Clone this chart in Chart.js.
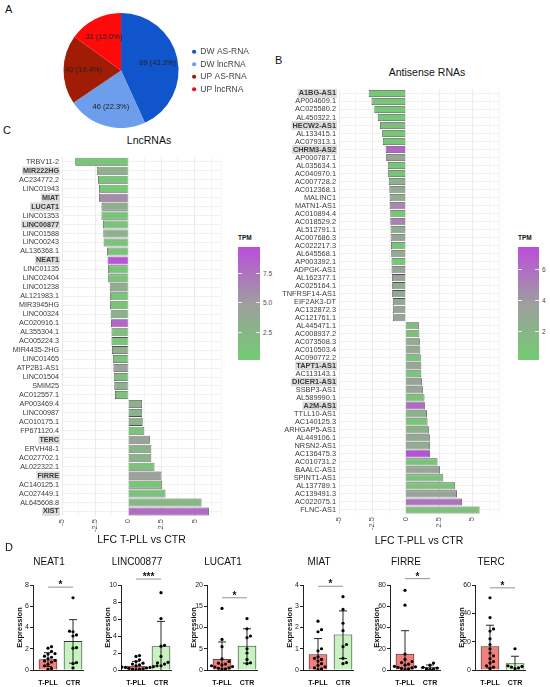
<!DOCTYPE html>
<html>
<head>
<meta charset="utf-8">
<title>lncRNA / antisense RNA figure</title>
<script src="https://cdn.jsdelivr.net/npm/chart.js@4.4.1/dist/chart.umd.min.js"></script>
<style>
  body { margin: 0; background: #fff; font-family: "Liberation Sans", Arial, sans-serif; }
  #page { position: relative; width: 550px; height: 687px; overflow: hidden; }
  canvas { position: absolute; }
  .tag { position: absolute; font-size: 11px; color: #111; }
  .mid { position: absolute; transform: translate(-50%, -50%); white-space: nowrap; color: #111; }
  .tpmbar { position: absolute; }
  .tpmtick { position: absolute; font-size: 6.5px; color: #4d4d4d; transform: translateY(-50%); }
  .tpmmark { position: absolute; height: 1px; background: rgba(255,255,255,0.8); }
</style>
</head>
<body>
<div id="page">
  <canvas id="pie" width="205" height="115" style="left:54px;top:13px"></canvas>
  <canvas id="asChart" width="236" height="465" style="left:275px;top:82px"></canvas>
  <canvas id="lncChart" width="233" height="396" style="left:0px;top:150px"></canvas>

  <div class="tag" style="left:5px;top:3px">A</div>
  <div class="tag" style="left:275px;top:54px">B</div>
  <div class="tag" style="left:3px;top:124px">C</div>
  <div class="tag" style="left:5px;top:541px">D</div>
  <div class="mid" style="left:427px;top:72px;font-size:10.5px">Antisense RNAs</div>
  <div class="mid" style="left:149px;top:140px;font-size:10.5px">LncRNAs</div>
</div>
<script>
// ---------- panel A ----------
var pieGroups = ['DW AS-RNA', 'DW lncRNA', 'UP AS-RNA', 'UP lncRNA'];
var pieCounts = [89, 46, 40, 31];
var piePercents = ['43.3', '22.3', '19.4', '15.0'];

// ---------- panel B : antisense RNAs ----------
var asLabels = ['A1BG-AS1', 'AP004609.1', 'AC025580.2', 'AL450322.1', 'HECW2-AS1', 'AL133415.1',
  'AC079313.1', 'CHRM3-AS2', 'AP000787.1', 'AL035634.1', 'AC040970.1', 'AC007728.2', 'AC012368.1',
  'MALINC1', 'MATN1-AS1', 'AC010894.4', 'AC018529.2', 'AL512791.1', 'AC007686.3', 'AC022217.3',
  'AL645568.1', 'AP003392.1', 'ADPGK-AS1', 'AL162377.1', 'AC025164.1', 'TNFRSF14-AS1', 'EIF2AK3-DT',
  'AC132872.3', 'AC121761.1', 'AL445471.1', 'AC008937.2', 'AC073508.3', 'AC010503.4', 'AC090772.2',
  'TAPT1-AS1', 'AC113143.1', 'DICER1-AS1', 'SSBP3-AS1', 'AL589990.1', 'A2M-AS1', 'TTLL10-AS1',
  'AC140125.3', 'ARHGAP5-AS1', 'AL449106.1', 'NRSN2-AS1', 'AC136475.3', 'AC010731.2', 'BAALC-AS1',
  'SPINT1-AS1', 'AL137789.1', 'AC139491.3', 'AC022075.1', 'FLNC-AS1'];
var asLfc = [-2.77, -2.56, -2.35, -2.09, -1.92, -1.76, -1.71, -1.50, -1.46, -1.34, -1.31, -1.27, -1.22,
  -1.20, -1.20, -1.15, -1.15, -1.13, -1.13, -1.10, -1.08, -1.06, -1.06, -1.03, -1.01, -1.01, -0.96,
  -0.96, -0.96, 1.01, 1.03, 1.06, 1.10, 1.13, 1.17, 1.17, 1.22, 1.29, 1.41, 1.46, 1.60,
  1.64, 1.76, 1.81, 1.83, 1.83, 2.39, 2.58, 2.82, 3.71, 3.85, 4.23, 5.54];
var asTpm = [0.5, 0.6, 0.5, 0.6, 1.2, 0.7, 0.6, 6.3, 3.3, 0.6, 0.8, 2.2, 3.0,
  2.5, 4.8, 0.7, 4.9, 2.4, 3.2, 0.8, 2.8, 0.5, 3.2, 3.4, 2.6, 2.7, 3.0,
  3.2, 3.1, 1.3, 1.1, 2.3, 3.0, 0.8, 3.0, 0.6, 3.2, 2.9, 0.9, 6.0, 2.0,
  0.6, 2.2, 3.0, 2.8, 7.3, 0.8, 3.0, 0.9, 1.0, 3.3, 5.7, 1.0];
var asBold = ['A1BG-AS1', 'HECW2-AS1', 'CHRM3-AS2', 'TAPT1-AS1', 'DICER1-AS1', 'A2M-AS1'];
var asTpmRange = [0.1, 7.4];
var asTpmTicks = [2, 4, 6];
var asTpmTickLabels = ['2', '4', '6'];

// ---------- panel C : lncRNAs ----------
var lncLabels = ['TRBV11-2', 'MIR222HG', 'AC234772.2', 'LINC01943', 'MIAT', 'LUCAT1', 'LINC01353',
  'LINC00877', 'LINC01588', 'LINC00243', 'AL136368.1', 'NEAT1', 'LINC01135', 'LINC02404', 'LINC01238',
  'AL121983.1', 'MIR3945HG', 'LINC00324', 'AC020916.1', 'AL355304.1', 'AC005224.3', 'MIR4435-2HG',
  'LINC01465', 'ATP2B1-AS1', 'LINC01504', 'SMIM25', 'AC012557.1', 'AP003469.4', 'LINC00987',
  'AC010175.1', 'FP671120.4', 'TERC', 'ERVH48-1', 'AC027702.1', 'AL022322.1', 'FIRRE', 'AC140125.1',
  'AC027449.1', 'AL645608.8', 'XIST'];
var lncLfc = [-4.00, -2.37, -2.28, -2.21, -2.21, -2.02, -2.02, -1.91, -1.88, -1.86, -1.60, -1.56, -1.53,
  -1.51, -1.40, -1.37, -1.37, -1.33, -1.30, -1.26, -1.26, -1.23, -1.16, -1.12, -1.09, -1.05, -1.00,
  1.05, 1.05, 1.09, 1.21, 1.63, 1.74, 1.74, 1.98, 2.51, 2.56, 2.81, 5.53, 6.09];
var lncTpm = [0.8, 3.0, 0.8, 0.7, 6.0, 3.3, 0.8, 1.2, 3.0, 1.3, 1.0, 9.3, 1.0,
  1.1, 3.2, 0.5, 0.9, 2.8, 8.3, 1.5, 1.0, 2.9, 1.2, 4.6, 1.6, 3.0, 1.1,
  2.9, 2.8, 2.6, 1.0, 4.6, 2.7, 2.6, 1.3, 4.6, 0.8, 1.4, 2.4, 7.8];
var lncBold = ['MIR222HG', 'MIAT', 'LUCAT1', 'LINC00877', 'NEAT1', 'TERC', 'FIRRE', 'XIST'];
var lncTpmRange = [0.1, 9.7];
var lncTpmTicks = [2.5, 5, 7.5];
var lncTpmTickLabels = ['2.5', '5.0', '7.5'];

var lfcTicks = [-5, -2.5, 0, 2.5, 5];
var lfcTickLabels = ['-5', '-2.5', '0', '2.5', '5'];

// ---------- panel D : expression ----------
var exprGenes = ['NEAT1', 'LINC00877', 'LUCAT1', 'MIAT', 'FIRRE', 'TERC'];
var exprGroups = ['T-PLL', 'CTR'];
var exprYMax = [8, 10, 20, 4, 80, 60];
var exprYStep = [2, 2, 5, 1, 20, 20];
var exprMean = [[0.98, 2.69], [0.47, 2.76], [2.5, 5.65], [0.73, 1.66], [15, 2.6], [16.6, 4.6]];
var exprSd = [[0.65, 2.05], [0.55, 2.96], [4.1, 4.05], [0.75, 1.12], [22, 2.1], [15, 5.1]];
var exprSig = ['*', '***', '*', '*', '*', '*'];
var exprSigAt = [7.8, 10.7, 17, 3.94, 86, 58];
var tpllDots = [
  [2.2, 2.05, 1.75, 1.55, 1.5, 1.3, 1.2, 1.05, 0.9, 0.85, 0.75, 0.55, 0.4, 0.15, 0.05],
  [1.7, 1.6, 1.2, 1.0, 0.8, 0.7, 0.6, 0.5, 0.5, 0.45, 0.4, 0.35, 0.3, 0.3, 0.25, 0.2, 0.15, 0.1, 0.1, 0.05],
  [14.5, 7.2, 5.5, 2.6, 2.0, 1.6, 1.4, 1.2, 1.0, 0.8, 0.7, 0.5, 0.4, 0.3, 0.2],
  [2.3, 1.9, 1.8, 1.0, 0.9, 0.62, 0.55, 0.5, 0.42, 0.3, 0.22, 0.15, 0.1, 0.05, 0.02],
  [75, 61, 15, 10, 8, 7, 5.5, 4.5, 3.5, 3, 2.5, 2, 1.5, 1, 0.5],
  [51, 37, 29, 27.5, 22, 18, 15, 12, 10, 8, 6, 5, 3, 2, 1]
];
var ctrDots = [
  [6.8, 3.65, 3.6, 3.3, 3.2, 2.1, 2.05, 0.7, 0.6, 0.2],
  [9.1, 6.05, 2.9, 2.8, 1.6, 0.9, 0.85, 0.7, 0.5],
  [12.1, 9.7, 8.0, 7.6, 5.0, 4.0, 2.5, 1.7, 1.5],
  [3.45, 2.85, 2.2, 1.85, 1.2, 1.1, 0.55, 0.35, 0.3],
  [6.5, 4.5, 2.5, 1.8, 1.2, 0.8, 0.5],
  [15, 3, 2.5, 2, 1.5, 1]
];

// ---------- styles ----------
Chart.defaults.font.family = '"Liberation Sans", Arial, sans-serif';
var pieColors = ['#1155cc', '#6d9eeb', '#a11c05', '#ff0a0a'];
var tpmLow = [114, 204, 114], tpmMid = [158, 158, 158], tpmHigh = [187, 77, 219];
var page = document.getElementById('page');

function rgb(c) { return 'rgb(' + c.join(',') + ')'; }

function tpmColor(v, range) {
  var t = Math.max(0, Math.min(1, (v - range[0]) / (range[1] - range[0])));
  var a = t < 0.5 ? tpmLow : tpmMid, b = t < 0.5 ? tpmMid : tpmHigh;
  var u = t < 0.5 ? t / 0.5 : (t - 0.5) / 0.5;
  return rgb(a.map(function (c, i) { return Math.round(c + (b[i] - c) * u); }));
}

// slice labels "n (p%)"
var pieLabels = {
  id: 'pieLabels',
  afterDatasetsDraw: function (chart) {
    var ctx = chart.ctx;
    ctx.save();
    ctx.font = '7.5px "Liberation Sans", Arial';
    ctx.fillStyle = '#222';
    ctx.textAlign = 'center';
    ctx.textBaseline = 'middle';
    chart.getDatasetMeta(0).data.forEach(function (arc, i) {
      var p = arc.getProps(['x', 'y', 'startAngle', 'endAngle', 'outerRadius']);
      var a = (p.startAngle + p.endAngle) / 2, r = p.outerRadius * 0.65;
      ctx.fillText(pieCounts[i] + ' (' + piePercents[i] + '%)', p.x + Math.cos(a) * r, p.y + Math.sin(a) * r);
    });
    ctx.restore();
  }
};

new Chart(document.getElementById('pie'), {
  type: 'pie',
  data: { labels: pieGroups, datasets: [{ data: pieCounts, backgroundColor: pieColors, borderWidth: 0 }] },
  options: {
    responsive: false, animation: false,
    layout: { padding: 0 },
    plugins: {
      tooltip: { enabled: false },
      legend: {
        position: 'right',
        labels: { usePointStyle: true, pointStyle: 'circle', boxWidth: 4, boxHeight: 3, padding: 4,
          color: '#444', font: { size: 8.5 } }
      }
    }
  },
  plugins: [pieLabels]
});

function lfcChart(id, labels, lfc, tpm, bold, tpmRange, yWidth, xHeight, fontSize) {
  new Chart(document.getElementById(id), {
    type: 'bar',
    data: { labels: labels, datasets: [{
      data: lfc,
      backgroundColor: tpm.map(function (v) { return tpmColor(v, tpmRange); }),
      borderColor: '#505050', borderWidth: 0.8,
      barPercentage: 0.9, categoryPercentage: 1
    }] },
    options: {
      indexAxis: 'y', responsive: false, animation: false,
      layout: { padding: { top: 2, right: 1, left: 0, bottom: 0 } },
      plugins: { legend: { display: false }, tooltip: { enabled: false } },
      scales: {
        x: {
          min: -5, max: 7,
          ticks: {
            stepSize: 1.25, minRotation: 90, maxRotation: 90, padding: 3, autoSkip: false,
            color: '#4d4d4d', font: { size: 7.5 },
            callback: function (v) { var i = lfcTicks.indexOf(v); return i < 0 ? '' : lfcTickLabels[i]; }
          },
          grid: {
            color: function (c) { return lfcTicks.indexOf(c.tick.value) >= 0 ? '#e3e3e3' : '#f1f1f1'; },
            drawTicks: false, lineWidth: 0.7
          },
          border: { display: false },
          title: { display: true, text: 'LFC T-PLL vs CTR', color: '#111', font: { size: 10.5 }, padding: 0 },
          afterFit: function (s) { s.height = xHeight; }
        },
        y: {
          ticks: {
            autoSkip: false, padding: 3, color: '#3a3a3a',
            font: function (c) {
              return { size: fontSize, weight: bold.indexOf(labels[c.index]) >= 0 ? 'bold' : 'normal' };
            },
            showLabelBackdrop: true,
            backdropColor: function (c) {
              return bold.indexOf(labels[c.index]) >= 0 ? '#dcdcdc' : 'rgba(255,255,255,0)';
            },
            backdropPadding: { top: 0, bottom: 0, left: 1, right: 1 }
          },
          grid: { offset: false, color: '#ebebeb', drawTicks: false, lineWidth: 0.7 },
          border: { display: false },
          afterFit: function (s) { s.width = yWidth; }
        }
      }
    }
  });
}

lfcChart('asChart', asLabels, asLfc, asTpm, asBold, asTpmRange, 64, 33, 7.4);
lfcChart('lncChart', lncLabels, lncLfc, lncTpm, lncBold, lncTpmRange, 62, 30, 7.2);

// colour bar legends
function tpmLegend(left, top, w, h, range, ticks, tickLabels) {
  var title = document.createElement('div');
  title.className = 'tag';
  title.style.cssText = 'left:' + left + 'px;top:' + (top - 13) + 'px;font-size:6.5px;font-weight:bold';
  title.textContent = 'TPM';
  page.appendChild(title);
  var bar = document.createElement('div');
  bar.className = 'tpmbar';
  bar.style.cssText = 'left:' + left + 'px;top:' + top + 'px;width:' + w + 'px;height:' + h + 'px;' +
    'background:linear-gradient(to top,' + rgb(tpmLow) + ',' + rgb(tpmMid) + ',' + rgb(tpmHigh) + ')';
  page.appendChild(bar);
  ticks.forEach(function (v, i) {
    var y = top + h * (1 - (v - range[0]) / (range[1] - range[0]));
    [0, w - 4].forEach(function (dx) {
      var m = document.createElement('div');
      m.className = 'tpmmark';
      m.style.cssText = 'left:' + (left + dx) + 'px;top:' + y + 'px;width:4px';
      page.appendChild(m);
    });
    var t = document.createElement('div');
    t.className = 'tpmtick';
    t.style.cssText = 'left:' + (left + w + 3) + 'px;top:' + y + 'px';
    t.textContent = tickLabels[i];
    page.appendChild(t);
  });
}
tpmLegend(518, 247, 21, 113, asTpmRange, asTpmTicks, asTpmTickLabels);
tpmLegend(238, 247, 22, 113, lncTpmRange, lncTpmTicks, lncTpmTickLabels);

// ---------- panel D ----------
// places dots of one group side by side when their values are close (beeswarm)
function swarm(values, group, yMax) {
  var placed = [];
  values.slice().sort(function (a, b) { return a - b; }).forEach(function (v) {
    var near = placed.filter(function (p) { return Math.abs(p.y - v) < yMax * 0.045; });
    var k = 0, off = 0;
    while (true) {
      off = k === 0 ? 0 : (k % 2 ? 1 : -1) * Math.ceil(k / 2) * 0.14;
      var clash = near.some(function (p) { return Math.abs(p.off - off) < 0.1; });
      if (!clash) break;
      k++;
    }
    placed.push({ y: v, off: off });
  });
  return placed.map(function (p) { return { x: group + p.off, y: p.y }; });
}

function exprDecor(g) {
  return {
    id: 'exprDecor',
    afterDatasetsDraw: function (chart) {
      var x = chart.scales.x, y = chart.scales.y, ctx = chart.ctx;
      ctx.save();
      ctx.strokeStyle = '#111';
      ctx.lineWidth = 0.9;
      exprMean[g].forEach(function (m, i) {
        var px = x.getPixelForValue(i), cap = 4;
        var top = y.getPixelForValue(m + exprSd[g][i]);
        ctx.beginPath();
        ctx.moveTo(px - cap, top); ctx.lineTo(px + cap, top);
        if (m - exprSd[g][i] > 0) {
          var bot = y.getPixelForValue(m - exprSd[g][i]);
          ctx.moveTo(px, top); ctx.lineTo(px, bot);
          ctx.moveTo(px - cap, bot); ctx.lineTo(px + cap, bot);
        } else {
          ctx.moveTo(px, top); ctx.lineTo(px, y.getPixelForValue(0));
        }
        ctx.stroke();
      });
      var by = y.getPixelForValue(exprSigAt[g]);
      var x0 = x.getPixelForValue(0), x1 = x.getPixelForValue(1);
      ctx.strokeStyle = '#888';
      ctx.beginPath(); ctx.moveTo(x0, by); ctx.lineTo(x1, by); ctx.stroke();
      ctx.fillStyle = '#111';
      ctx.font = 'bold 10px "Liberation Sans", Arial';
      ctx.textAlign = 'center';
      ctx.textBaseline = 'alphabetic';
      ctx.fillText(exprSig[g], (x0 + x1) / 2, by + 1);
      ctx.restore();
    }
  };
}

var dAxisX = [33, 121, 207, 303, 390, 475];
exprGenes.forEach(function (gene, g) {
  var cv = document.createElement('canvas');
  cv.width = 80; cv.height = 135;
  cv.style.left = (dAxisX[g] - 18) + 'px';
  cv.style.top = '552px';
  page.appendChild(cv);
  var dots = swarm(tpllDots[g], 0, exprYMax[g]).concat(swarm(ctrDots[g], 1, exprYMax[g]));
  new Chart(cv, {
    type: 'bar',
    data: {
      datasets: [{
        type: 'bar', order: 2,
        data: exprMean[g].map(function (m, i) { return { x: i, y: m }; }),
        backgroundColor: ['#f27f7c', '#c8f3c1'], borderColor: '#333', borderWidth: 0.8,
        barThickness: 18
      }, {
        type: 'scatter', order: 1,
        data: dots, pointRadius: 1.6, pointBackgroundColor: '#000', pointBorderWidth: 0
      }]
    },
    options: {
      responsive: false, animation: false,
      layout: { padding: { right: 12, left: 0, top: 0, bottom: 0 } },
      plugins: {
        legend: { display: false }, tooltip: { enabled: false },
        title: { display: true, text: gene, color: '#111', font: { size: 10, weight: 'normal' },
          padding: { top: 4, bottom: 17 } }
      },
      scales: {
        x: {
          type: 'linear', min: -0.6, max: 1.4, offset: false, bounds: 'ticks',
          afterBuildTicks: function (s) { s.ticks = [{ value: 0 }, { value: 1 }]; },
          ticks: { padding: 1, color: '#111', font: { size: 7, weight: 'bold' },
            minRotation: 0, maxRotation: 0, autoSkip: false,
            callback: function (v) { return exprGroups[v]; } },
          grid: { display: false },
          border: { color: '#222', width: 1 },
          afterFit: function (s) { s.height = 17; }
        },
        y: {
          min: 0, max: exprYMax[g],
          ticks: { stepSize: exprYStep[g], padding: 1, color: '#222', font: { size: 7 } },
          grid: { drawOnChartArea: false, drawTicks: true, tickLength: 3, color: '#222' },
          border: { color: '#222', width: 1 },
          title: { display: true, text: 'Expression', color: '#111', font: { size: 7.5, weight: 'bold' }, padding: 0 },
          afterFit: function (s) { s.width = 18; }
        }
      }
    },
    plugins: [exprDecor(g)]
  });
});
</script>
</body>
</html>
